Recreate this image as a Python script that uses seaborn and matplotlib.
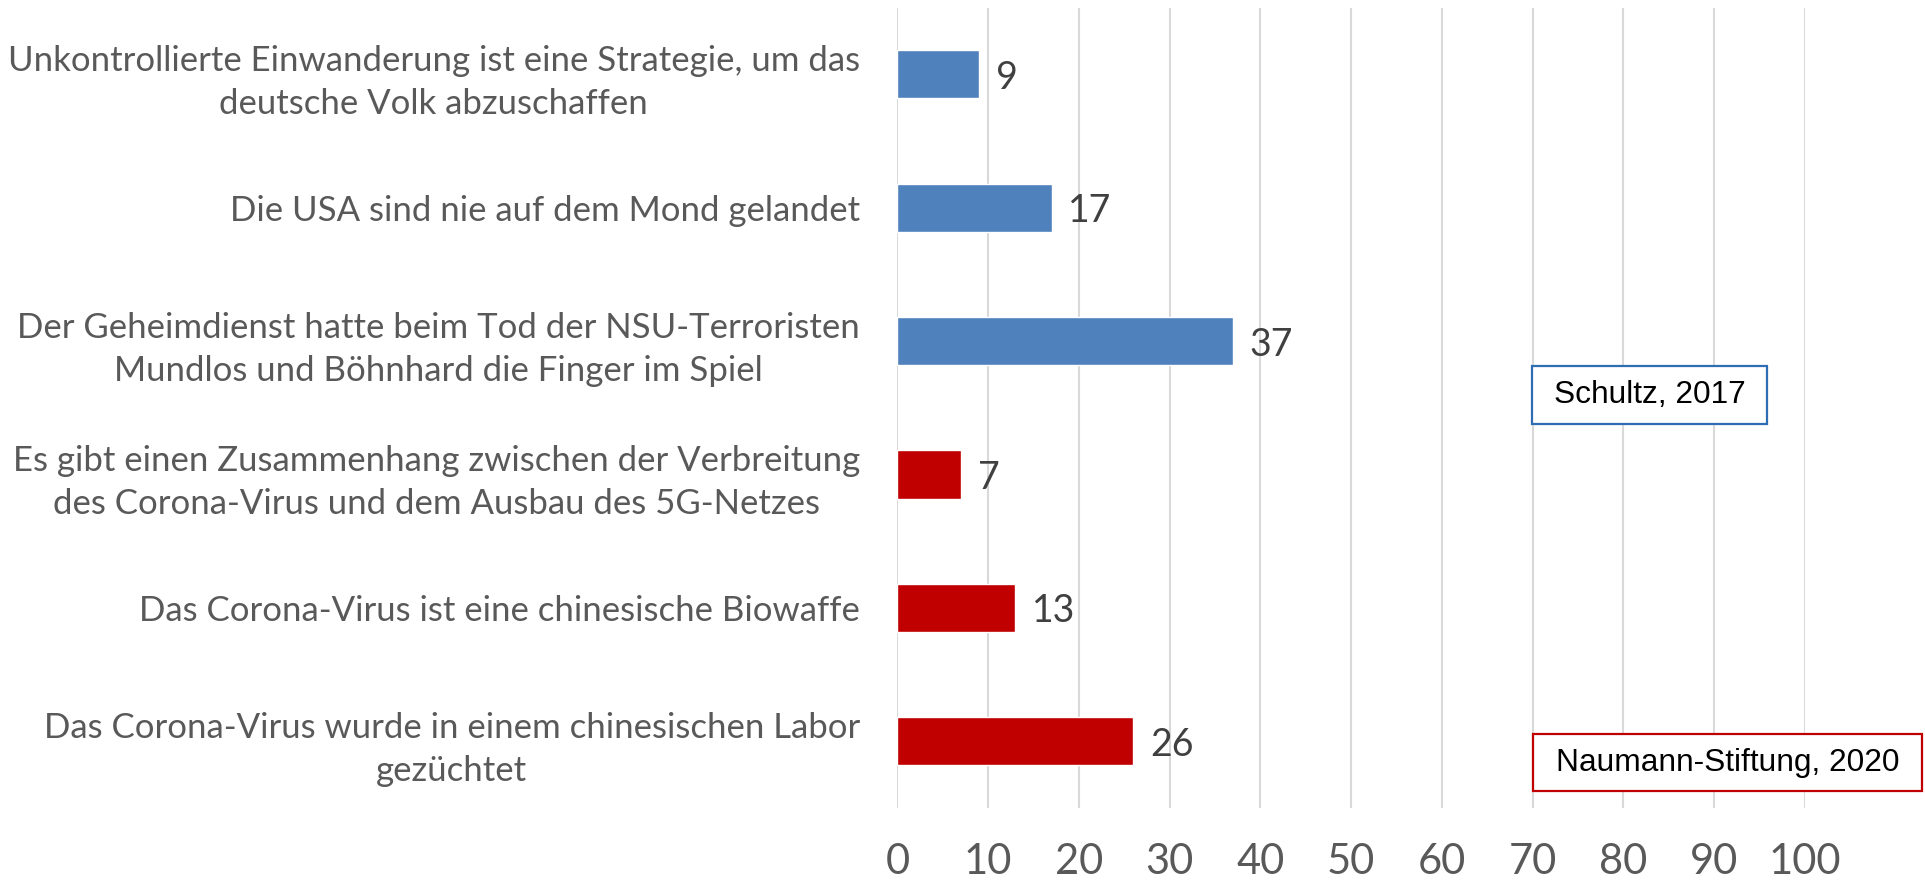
import matplotlib
matplotlib.use("Agg")
import matplotlib.pyplot as plt
import seaborn as sns
import pandas as pd
from matplotlib.patches import Rectangle

statements = [
    "Unkontrollierte Einwanderung ist eine Strategie, um das\ndeutsche Volk abzuschaffen",
    "Die USA sind nie auf dem Mond gelandet",
    "Der Geheimdienst hatte beim Tod der NSU-Terroristen\nMundlos und Böhnhard die Finger im Spiel",
    "Es gibt einen Zusammenhang zwischen der Verbreitung\ndes Corona-Virus und dem Ausbau des 5G-Netzes",
    "Das Corona-Virus ist eine chinesische Biowaffe",
    "Das Corona-Virus wurde in einem chinesischen Labor\ngezüchtet",
]
values = [9, 17, 37, 7, 13, 26]
sources = ["Schultz, 2017"] * 3 + ["Naumann-Stiftung, 2020"] * 3
x_ticks = [0, 10, 20, 30, 40, 50, 60, 70, 80, 90, 100]

colors = {"Schultz, 2017": "#4F81BD", "Naumann-Stiftung, 2020": "#C00000"}
edge_colors = {"Schultz, 2017": "#2E6DB4", "Naumann-Stiftung, 2020": "#C00000"}

df = pd.DataFrame({"statement": statements, "value": values, "source": sources})

sns.set_theme(style="white")
plt.rcParams["font.family"] = ["Lato", "DejaVu Sans"]

fig = plt.figure(figsize=(19.25, 8.82), dpi=100)
ax = fig.add_axes([0.4662, 0.0839, 0.9375 - 0.4662, 0.9914 - 0.0839])

sns.barplot(data=df, x="value", y="statement", hue="source", palette=colors,
            dodge=False, width=0.36, legend=False, ax=ax, saturation=1)

ax.set_xlim(0, 100)
ax.set_xticks(x_ticks)
ax.set_xticklabels([str(t) for t in x_ticks])
ax.grid(axis="x", color="#D9D9D9", linewidth=1.5)
ax.set_axisbelow(True)
for s in ax.spines.values():
    s.set_visible(False)
ax.set_xlabel("")
ax.set_ylabel("")
ax.tick_params(axis="x", length=0, pad=25, labelsize=30, labelcolor="#595959")
ax.tick_params(axis="y", length=0, pad=27, labelsize=25, labelcolor="#595959")
for lab in ax.get_yticklabels():
    lab.set_multialignment("center")
    lab.set_linespacing(1.42)

for cont in ax.containers:
    labels = ax.bar_label(cont, padding=12, fontsize=27, color="#404040")
    for t in labels:
        t.set_va("center_baseline")

# source boxes
boxes = [
    ("Schultz, 2017", 1532, 366, 1767, 424),
    ("Naumann-Stiftung, 2020", 1533, 734, 1922, 791),
]
W, H = 1925, 882
for name, x0, y0, x1, y1 in boxes:
    fig.patches.append(Rectangle((x0 / W, 1 - y1 / H), (x1 - x0) / W, (y1 - y0) / H,
                                 transform=fig.transFigure, facecolor="white",
                                 edgecolor=edge_colors[name], linewidth=1.6, zorder=5))
    fig.text((x0 + x1) / 2 / W, 1 - (y0 + y1) / 2 / H, name, ha="center", va="center",
             fontsize=22.8, family=["Liberation Sans", "DejaVu Sans"], color="black", zorder=6)

fig.savefig("out.png", dpi=100)
